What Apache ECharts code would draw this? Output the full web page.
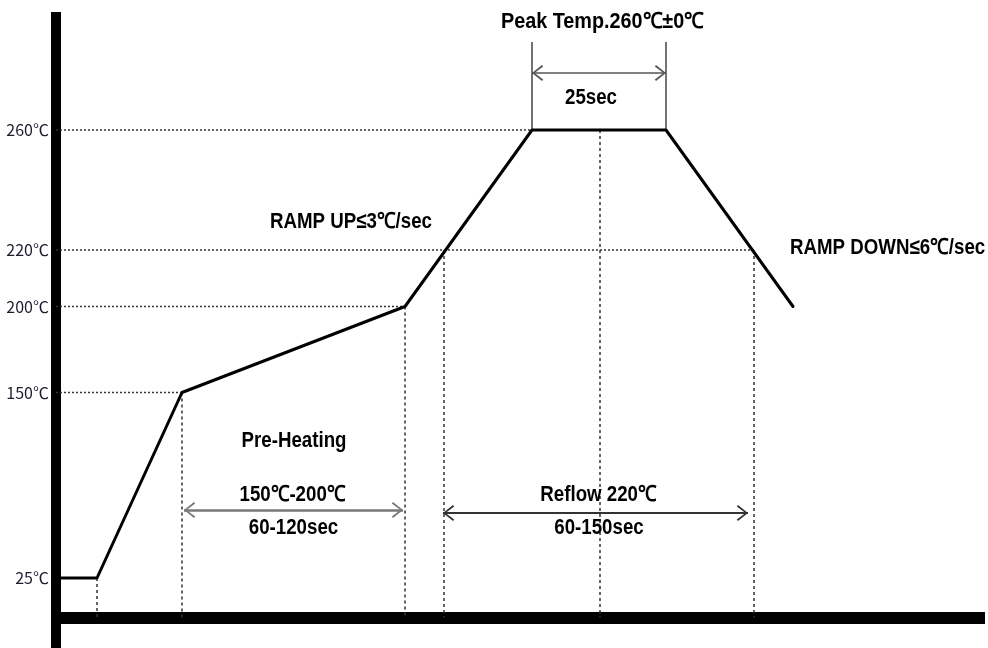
<!DOCTYPE html>
<html>
<head>
<meta charset="utf-8">
<script src="https://cdn.jsdelivr.net/npm/echarts@6/dist/echarts.min.js"></script>
<style>
html,body{margin:0;padding:0;background:#fff;}
#c{width:988px;height:648px;}
</style>
</head>
<body>
<div id="c"></div>
<script>
// ---- data (schematic reflow profile) ----
const timeSec = [0, 41, 126, 349, 476, 610, 737];        // schematic time axis units
const tempC   = [25, 25, 150, 200, 260, 260, 200];        // temperature at each point
const tempTicks = [25, 150, 200, 220, 260];
const tickLabels = ['25℃', '150℃', '200℃', '220℃', '260℃'];
// dotted guide lines: horizontal (temp, end time) and vertical (time, temp)
const hGuideTemp = [150, 200, 220, 260];
const hGuideTime = [126, 349, 698, 476];
const vGuideTime = [41, 126, 349, 388, 544, 698];
const vGuideTemp = [25, 150, 200, 220, 260, 220];
// annotation texts
const annoText = ['Peak Temp.260℃±0℃', '25sec', 'RAMP UP≤3℃/sec', 'RAMP DOWN≤6℃/sec',
                  'Pre-Heating', '150℃-200℃', '60-120sec', 'Reflow 220℃', '60-150sec'];

// ---- layout: the schematic temperature axis is not linear; map levels to heights ----
const levelHeight = [39.5, 225, 311, 367.5, 487.5];
function h(t) {
  for (let i = 0; i < tempTicks.length - 1; i++) {
    if (t <= tempTicks[i + 1]) {
      const a = tempTicks[i], b = tempTicks[i + 1];
      return levelHeight[i] + (t - a) / (b - a) * (levelHeight[i + 1] - levelHeight[i]);
    }
  }
  return levelHeight[levelHeight.length - 1];
}
const annoPos = [[546.5, 595.5, 'center', 0.9], [535, 519.5, 'center', 0.85], [295, 395.5, 'center', 0.85], [734, 369.5, 'left', 0.85],
                 [238, 176.5, 'center', 0.85], [236.5, 122.5, 'center', 0.85], [237.5, 89.5, 'center', 0.85],
                 [542.5, 122.5, 'center', 0.85], [543, 89.5, 'center', 0.85]];

const FONT = '"Liberation Sans", Arial, sans-serif';
const chevron = 'path://M8,0 L16,10 L14.6,11.2 L8,2.6 L1.4,11.2 L0,10 Z M8,-11.2 L8.01,-11.2 Z';

const series = [];
hGuideTemp.forEach((t, i) => {
  series.push({type: 'line', data: [[0, h(t)], [hGuideTime[i], h(t)]], symbol: 'none', silent: true,
    lineStyle: {color: '#333', width: 1.5, type: [2, 2]}, z: 1});
});
vGuideTime.forEach((x, i) => {
  series.push({type: 'line', data: [[x, h(vGuideTemp[i])], [x, 0]], symbol: 'none', silent: true,
    lineStyle: {color: '#333', width: 1.5, type: [3, 3]}, z: 1});
});
[timeSec[4], timeSec[5]].forEach(x => {
  series.push({type: 'line', data: [[x, h(260)], [x, 575.5]], symbol: 'none', silent: true,
    lineStyle: {color: '#444', width: 1.5}, z: 1});
});
series.push({
  type: 'line', symbol: 'none', z: 5,
  data: timeSec.map((x, i) => [x, h(tempC[i])]),
  lineStyle: {color: '#000', width: 3, cap: 'round', join: 'round'},
  markLine: {
    silent: true, animation: false,
    symbol: [chevron, chevron], symbolSize: [16, 22.4],
    label: {show: false},
    data: [
      [{coord: [476, 544.5], lineStyle: {color: '#555', width: 1.5, type: 'solid'}, itemStyle: {color: '#555'}}, {coord: [610, 544.5]}],
      [{coord: [128, 107.5], lineStyle: {color: '#777', width: 2.5, type: 'solid'}, itemStyle: {color: '#666'}}, {coord: [347, 107.5]}],
      [{coord: [387, 104.5], lineStyle: {color: '#333', width: 2, type: 'solid'}, itemStyle: {color: '#444'}}, {coord: [692, 104.5]}]
    ]
  }
});

const chart = echarts.init(document.getElementById('c'), null, {renderer: 'canvas'});
chart.setOption({
  animation: false,
  backgroundColor: '#fff',
  grid: {left: 56, right: 3, top: 12, bottom: 0},
  xAxis: {
    type: 'value', min: 0, max: 929,
    axisLine: {onZero: true, lineStyle: {color: '#000', width: 12, cap: 'butt'}},
    axisTick: {show: false}, axisLabel: {show: false}, splitLine: {show: false}
  },
  yAxis: {
    type: 'value', min: -30.5, max: 605.5,
    axisLine: {show: true, lineStyle: {color: '#000', width: 10, cap: 'butt'}},
    axisTick: {show: false}, splitLine: {show: false},
    axisLabel: {
      show: true, customValues: levelHeight, margin: 7,
      color: '#1c1c30', fontSize: 16, fontFamily: '"Noto Sans CJK SC", "Liberation Sans", sans-serif',
      formatter: v => {
        const i = levelHeight.findIndex(x => Math.abs(x - v) < 0.01);
        return i >= 0 ? tickLabels[i] : '';
      }
    }
  },
  series: series
});

// annotation texts placed at data coordinates through the grid's scales
const texts = annoText.map((s, i) => {
  const p = chart.convertToPixel({gridIndex: 0}, [annoPos[i][0], annoPos[i][1]]);
  return {
    type: 'text', x: p[0], y: p[1], scaleX: annoPos[i][3], z: 100, silent: true,
    style: {text: s, fill: '#000', font: 'bold 22px ' + FONT,
            align: annoPos[i][2], verticalAlign: 'middle'}
  };
});
chart.setOption({graphic: {elements: texts}});
</script>
</body>
</html>
